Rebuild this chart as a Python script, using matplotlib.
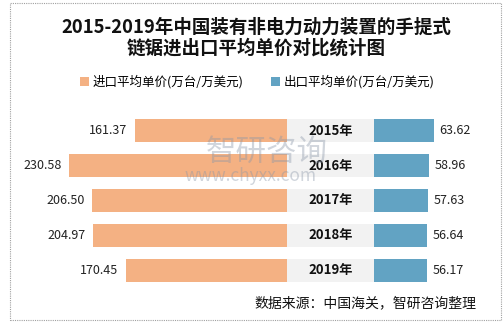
import matplotlib
matplotlib.use("Agg")
import matplotlib.pyplot as plt
from matplotlib.patches import Rectangle

plt.rcParams["font.family"] = ["Noto Sans CJK SC", "DejaVu Sans"]

years = ["2015年", "2016年", "2017年", "2018年", "2019年"]
import_price = [161.37, 230.58, 206.50, 204.97, 170.45]
export_price = [63.62, 58.96, 57.63, 56.64, 56.17]

IMPORT_COLOR = "#F4B183"
EXPORT_COLOR = "#62A3C3"
BAND_COLOR = "#F2F2F2"
BAND = 92  # width of the centre label band, in value units

fig = plt.figure(figsize=(5.04, 3.26), dpi=100)
ax = fig.add_axes([0, 0, 1, 1])
ax.set_xlim(-304, 230)
ax.set_ylim(5.586, -3.729)
ax.axis("off")

pos = list(range(len(years)))
h = 0.657
imp = ax.barh(pos, [-v for v in import_price], left=0, height=h, color=IMPORT_COLOR,
              label="进口平均单价(万台/万美元)")
ax.barh(pos, [BAND] * len(years), left=0, height=h, color=BAND_COLOR)
exp = ax.barh(pos, export_price, left=BAND, height=h, color=EXPORT_COLOR,
              label="出口平均单价(万台/万美元)")

for i, (y, a, b) in enumerate(zip(years, import_price, export_price)):
    ax.text(-a - 8, i, f"{a:.2f}", ha="right", va="center", fontsize=9, color="#222222")
    ax.text(BAND + b + 6, i, f"{b:.2f}", ha="left", va="center", fontsize=9, color="#222222")
    ax.text(BAND / 2, i, y, ha="center", va="center", fontsize=9.5, fontweight="bold",
            color="#111111", zorder=5)

# watermark
fig.text(0.53, 1 - 152 / 326, "智研咨询", ha="center", va="center", fontsize=22,
         color="#8a96a8", alpha=0.4)
fig.text(0.498, 1 - 176 / 326, "www.chyxx.com", ha="center", va="center", fontsize=12.5,
         color="#8a96a8", alpha=0.4)

fig.text(0.508, 1 - 27 / 326, "2015-2019年中国装有非电力动力装置的手提式",
         ha="center", va="center", fontsize=13.3, fontweight="bold", color="#111111")
fig.text(0.508, 1 - 48 / 326, "链锯进出口平均单价对比统计图",
         ha="center", va="center", fontsize=13.3, fontweight="bold", color="#111111")

fig.legend(handles=[imp, exp], loc="center", bbox_to_anchor=(0.51, 1 - 82 / 326), ncol=2,
           frameon=False, fontsize=9, handlelength=0.7, handleheight=0.7,
           handletextpad=0.3, columnspacing=2.2)

fig.text(476 / 504, 1 - 303 / 326, "数据来源：中国海关，智研咨询整理", ha="right", va="center",
         fontsize=10, color="#111111")

fig.patches.append(Rectangle((10 / 504, 1 - 320 / 326), 491 / 504, 317 / 326,
                             transform=fig.transFigure, fill=False, edgecolor="#a0a0a0",
                             linestyle=(0, (1, 1)), linewidth=0.8))

fig.savefig("out.png", dpi=100)
